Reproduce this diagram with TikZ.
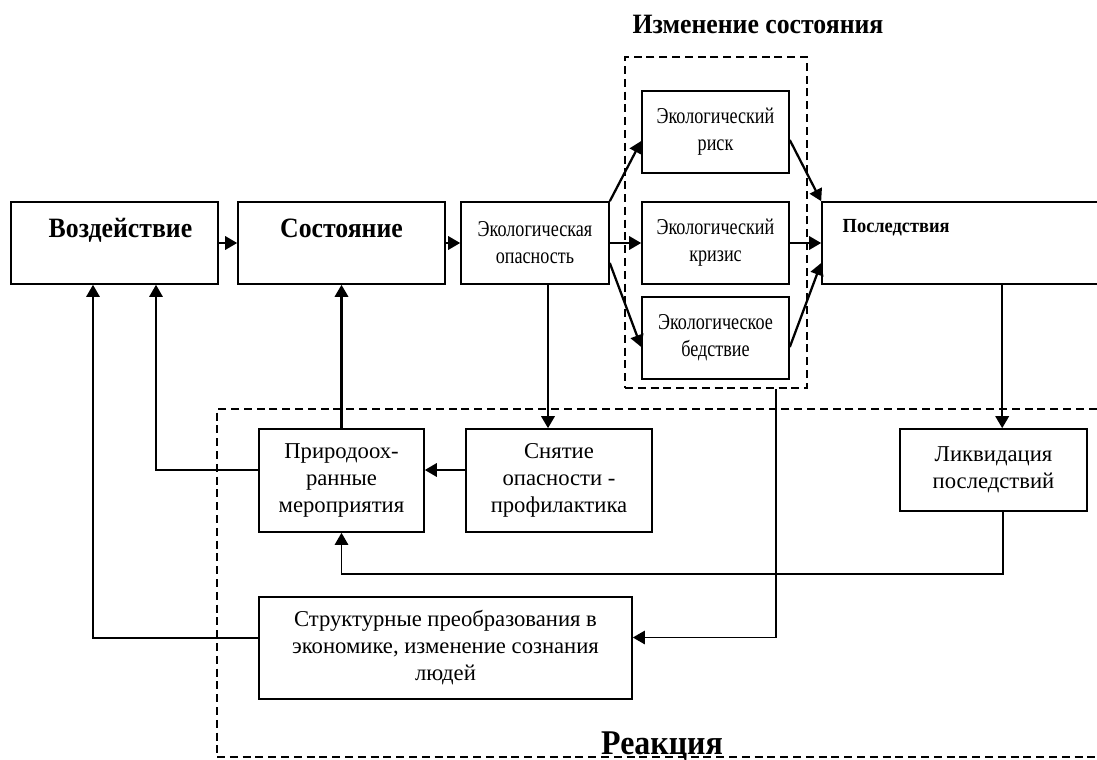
\documentclass[tikz,border=0pt]{standalone}
\usepackage{fontspec}
\setmainfont{Liberation Serif}
\newfontfamily\txtfont[FakeStretch=0.8]{Liberation Serif}
\newfontfamily\hdfont[FakeStretch=0.92]{Liberation Serif}
\usetikzlibrary{arrows.meta,calc}

\begin{document}
\begin{tikzpicture}[x=0.75pt,y=-0.75pt,
  box/.style={draw, line width=1.2pt, rectangle, inner sep=0pt, align=center,
    font=\txtfont\fontsize{17}{20.25}\selectfont},
  widebox/.style={box, font=\rmfamily\fontsize{17}{20.25}\selectfont},
  frame/.style={draw, line width=1.6pt, dash pattern=on 6pt off 3.6pt, rectangle, inner sep=0pt},
  arr/.style={line width=1.7pt, -{Triangle[length=9pt,width=10pt]}},
  longarr/.style={line width=1.3pt, -{Triangle[length=9pt,width=10pt]}},
  head/.style={anchor=base, inner sep=0pt, font=\hdfont\bfseries\fontsize{#1}{#1}\selectfont}
]
\useasboundingbox (0,0) rectangle (1097,760);
\clip (0,0) rectangle (1097,760);

% dashed group frames
\node[frame, minimum width=136.5pt, minimum height=248.25pt] (izm) at (716,222.5) {};
\node[frame, minimum width=669.75pt, minimum height=261pt] (reak) at (663.5,583) {};

% main chain
\node[box, minimum width=155.25pt, minimum height=61.5pt] (vozd) at (114.5,243) {};
\node[box, minimum width=155.25pt, minimum height=61.5pt] (sost) at (341.5,243) {};
\node[box, minimum width=111pt, minimum height=61.5pt] (opas) at (535,243) {Экологическая\\опасность};
\node[box, minimum width=110.25pt, minimum height=61.5pt] (risk) at (715.5,132) {Экологический\\риск};
\node[box, minimum width=110.25pt, minimum height=61.5pt] (kriz) at (715.5,243) {Экологический\\кризис};
\node[box, minimum width=110.25pt, minimum height=61.5pt] (bed) at (715.5,338) {Экологическое\\бедствие};
\node[box, minimum width=217.5pt, minimum height=61.5pt] (posl) at (967,243) {};

% reaction boxes
\node[widebox, minimum width=123.75pt, minimum height=77.25pt] (prir) at (341.5,480.5) {Природоох-\\ранные\\мероприятия};
\node[widebox, minimum width=139.5pt, minimum height=77.25pt] (snyat) at (559,480.5) {Снятие\\опасности -\\профилактика};
\node[widebox, minimum width=279.75pt, minimum height=76.5pt] (struct) at (445.5,648) {Структурные преобразования в\\экономике, изменение сознания\\людей};
\node[widebox, minimum width=140.25pt, minimum height=61.5pt] (likv) at (993.5,470) {Ликвидация\\последствий};

% headings
\node[head=21] at ($(vozd.north)+(6,36)$) {Воздействие};
\node[head=21] at ($(sost.north)+(0,36)$) {Состояние};
\node[head=15] at ($(posl.north west)+(75,31)$) {Последствия};
\node[head=21] at ($(izm.north)+(42,-22)$) {Изменение состояния};
\node[head=26] at ($(reak.south)+(-1.5,-4)$) {Реакция};

% chain arrows
\draw[arr] (vozd.east) -- (sost.west);
\draw[arr] (sost.east) -- (opas.west);
\draw[arr] (opas.north east) -- ($(risk.west)+(0,9)$);
\draw[arr] (opas.east) -- (kriz.west);
\draw[arr] ($(opas.east)+(0,20)$) -- ($(bed.west)+(0,9)$);
\draw[arr] ($(risk.east)+(0,8)$) -- (posl.north west);
\draw[arr] (kriz.east) -- (posl.west);
\draw[arr] ($(bed.east)+(0,9)$) -- ($(posl.west)+(0,20)$);

% reaction links
\coordinate (opasdn) at ($(opas.south)+(13,0)$);
\draw[arr] (opasdn) -- (opasdn |- snyat.north);
\draw[arr] ($(snyat.west)+(0,-10.5)$) -- ($(prir.east)+(0,-10.5)$);
\draw[arr] (prir.north) -- (sost.south);
\draw[longarr] ($(prir.west)+(0,-10.5)$) -| ($(vozd.south)+(41.5,0)$);
\draw[longarr] ($(struct.west)+(0,-10)$) -| ($(vozd.south)+(-21.5,0)$);

\coordinate (posldn) at ($(posl.south west)+(181,0)$);
\draw[arr] (posldn) -- (posldn |- likv.north);
\coordinate (likvdn) at ($(likv.south)+(9.5,0)$);
\draw[longarr] (likvdn) -- ++(0,62) -| (prir.south);
\coordinate (izmdn) at ($(izm.south)+(60,0)$);
\draw[longarr] (izmdn) |- ($(struct.east)+(0,-10.5)$);
\end{tikzpicture}
\end{document}
